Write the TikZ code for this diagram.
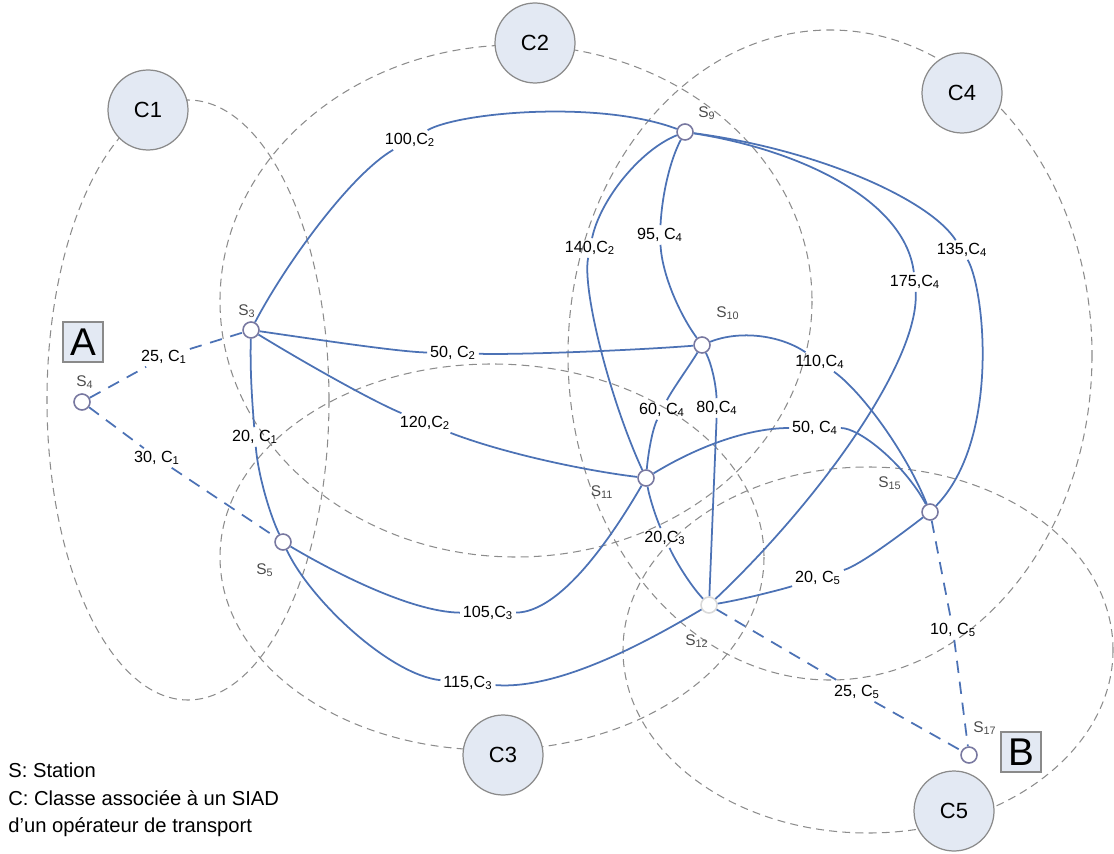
\documentclass[tikz,border=0pt]{standalone}
\usepackage{fontspec}
\setmainfont{Liberation Sans}
\usetikzlibrary{calc}
\definecolor{cLien}{HTML}{4C72B5}
\definecolor{cStn}{HTML}{7878A0}
\definecolor{cZone}{HTML}{8C8C8C}
\definecolor{cFond}{HTML}{E3E9F3}
\definecolor{cBord}{HTML}{8A8A8A}
\tikzset{
    x=0.02cm, y=-0.02cm,
    zone/.style={draw=cZone, dash pattern=on 4.5pt off 3pt, line width=0.6pt},
    lien/.style={draw=cLien, line width=1pt},
    lienp/.style={lien, dash pattern=on 7pt off 5pt},
    stn/.style={circle, draw=cStn, fill=white, line width=0.9pt,
                minimum size=0.32cm, inner sep=0pt},
    cls/.style={circle, draw=cBord, fill=cFond, line width=0.7pt,
                minimum size=1.6cm, inner sep=0pt, font=\fontsize{12.5}{14}\selectfont},
    fin/.style={draw=cBord, fill=cFond, line width=0.7pt, minimum size=0.8cm,
                inner sep=0pt, font=\fontsize{22}{24}\selectfont},
    elbl/.style={font=\fontsize{9.2}{10}\selectfont, inner sep=1.5pt},
    slbl/.style={font=\fontsize{8.8}{10}\selectfont, text=black!70, inner sep=1pt},
}

\begin{document}
\begin{tikzpicture}
    \useasboundingbox (0,0) rectangle (1114,854);

    % zones des classes
    \draw[zone] (188,400) ellipse [x radius=141, y radius=300];
    \draw[zone] (516,301) ellipse [x radius=296, y radius=256];
    \draw[zone] (492,557) ellipse [x radius=272, y radius=193];
    \draw[zone] (830,355) ellipse [x radius=262, y radius=325];
    \draw[zone] (868,650) ellipse [x radius=245, y radius=183];

    \node[cls] (c1) at (148,110) {C1};
    \node[cls] (c2) at (535,43) {C2};
    \node[cls] (c3) at (503,755) {C3};
    \node[cls] (c4) at (962,93) {C4};
    \node[cls] (c5) at (954,811) {C5};

    % stations
    \node[stn] (s3) at (251,330) {};
    \node[stn] (s4) at (82,402) {};
    \node[stn] (s5) at (283,542) {};
    \node[stn] (s9) at (685,132) {};
    \node[stn] (s10) at (702,345) {};
    \node[stn] (s11) at (646,478) {};
    \node[stn, draw=black!15] (s12) at (709,605) {};
    \node[stn] (s15) at (930,512) {};
    \node[stn] (s17) at (969,755) {};

    \node[slbl] (n3) at (247,311) {S\textsubscript{3}};
    \node[slbl] (n4) at (85,382) {S\textsubscript{4}};
    \node[slbl] (n5) at (265,570) {S\textsubscript{5}};
    \node[slbl] (n9) at (707,113) {S\textsubscript{9}};
    \node[slbl] (n10) at (728,313) {S\textsubscript{10}};
    \node[slbl] (n11) at (602,492) {S\textsubscript{11}};
    \node[slbl] (n12) at (697,641) {S\textsubscript{12}};
    \node[slbl] (n15) at (890,483) {S\textsubscript{15}};
    \node[slbl] (n17) at (985,728) {S\textsubscript{17}};

    \node[fin] (ndA) at (83,342) {A};
    \node[fin] (ndB) at (1021,752) {B};

    % etiquettes des liens
    \node[elbl] (l25a) at (164,357) {25, C\textsubscript{1}};
    \node[elbl] (l30) at (157,458) {30, C\textsubscript{1}};
    \node[elbl] (l20a) at (255,437) {20, C\textsubscript{1}};
    \node[elbl] (l100) at (410,140) {100,C\textsubscript{2}};
    \node[elbl] (l140) at (590,248) {140,C\textsubscript{2}};
    \node[elbl] (l95) at (660,235) {95, C\textsubscript{4}};
    \node[elbl] (l50a) at (453,353) {50, C\textsubscript{2}};
    \node[elbl] (l120) at (425,423) {120,C\textsubscript{2}};
    \node[elbl] (l60) at (662,410) {60, C\textsubscript{4}};
    \node[elbl] (l80) at (717,408) {80,C\textsubscript{4}};
    \node[elbl] (l110) at (820,362) {110,C\textsubscript{4}};
    \node[elbl] (l50b) at (815,428) {50, C\textsubscript{4}};
    \node[elbl] (l20b) at (665,538) {20,C\textsubscript{3}};
    \node[elbl] (l20c) at (818,578) {20, C\textsubscript{5}};
    \node[elbl] (l175) at (915,282) {175,C\textsubscript{4}};
    \node[elbl] (l135) at (962,250) {135,C\textsubscript{4}};
    \node[elbl] (l105) at (488,613) {105,C\textsubscript{3}};
    \node[elbl] (l115) at (468,683) {115,C\textsubscript{3}};
    \node[elbl] (l25b) at (857,692) {25, C\textsubscript{5}};
    \node[elbl] (l10) at (953,630) {10, C\textsubscript{5}};

    % liens en pointilles (acces A et B)
    \draw[lienp] (s4) -- (l25a) -- (s3);
    \draw[lienp] (s4) -- (l30) -- (s5);
    \draw[lienp] (s12) -- (l25b) -- (s17);
    \draw[lienp] (s15) -- (l10) -- (s17);

    % liens pleins
    \draw[lien] (s3) .. controls (250,370) and (252,400) .. (l20a)
                     .. controls (258,475) and (270,515) .. (s5);
    \draw[lien] (s3) .. controls (285,265) and (350,175) .. (l100)
                     .. controls (460,112) and (600,100) .. (s9);
    \draw[lien] (s9) .. controls (640,150) and (600,200) .. (l140)
                     .. controls (582,290) and (610,400) .. (s11);
    \draw[lien] (s9) .. controls (670,160) and (662,195) .. (l95)
                     .. controls (662,275) and (680,315) .. (s10);
    \draw[lien] (s3) .. controls (320,340) and (400,352) .. (l50a)
                     .. controls (520,355) and (640,350) .. (s10);
    \draw[lien] (s3) .. controls (300,360) and (370,400) .. (l120)
                     .. controls (500,452) and (580,470) .. (s11);
    \draw[lien] (s10) .. controls (690,365) and (672,390) .. (l60)
                      .. controls (652,430) and (648,455) .. (s11);
    \draw[lien] (s10) .. controls (712,365) and (716,385) .. (l80) -- (s12);
    \draw[lien] (s10) .. controls (740,330) and (780,335) .. (l110)
                      .. controls (860,390) and (905,450) .. (s15);
    \draw[lien] (s11) .. controls (700,445) and (750,428) .. (l50b)
                      .. controls (860,428) and (905,465) .. (s15);
    \draw[lien] (s11) .. controls (650,500) and (657,520) .. (l20b)
                      .. controls (675,560) and (690,585) .. (s12);
    \draw[lien] (s12) .. controls (740,600) and (780,590) .. (l20c)
                      .. controls (860,565) and (900,535) .. (s15);
    \draw[lien] (s9) .. controls (800,150) and (905,200) .. (l175)
                     .. controls (920,360) and (820,500) .. (s12);
    \draw[lien] (s9) .. controls (820,150) and (930,200) .. (l135)
                     .. controls (985,290) and (1000,440) .. (s15);
    \draw[lien] (s5) .. controls (330,570) and (410,612) .. (l105)
                     .. controls (560,612) and (610,540) .. (s11);
    \draw[lien] (s5) .. controls (310,600) and (390,675) .. (l115)
                     .. controls (560,690) and (650,640) .. (s12);

    % legende
    \node[anchor=west, align=left, inner sep=0pt,
          font=\fontsize{11.5}{15.6}\selectfont] (leg) at (8,800)
        {S: Station\\C: Classe associée à un SIAD\\d'un opérateur de transport};
\end{tikzpicture}
\end{document}
